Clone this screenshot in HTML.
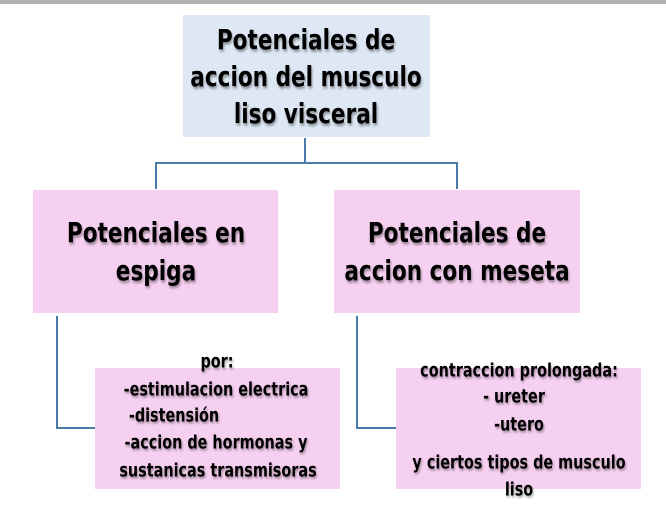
<!DOCTYPE html>
<html><head><meta charset="utf-8"><style>
body{margin:0;width:666px;height:511px;background:#fff;position:relative;overflow:hidden;font-family:"DejaVu Sans Condensed","DejaVu Sans","Liberation Sans",sans-serif;font-stretch:condensed;font-weight:bold;color:#000}
.b{position:absolute}
.t{position:absolute;white-space:nowrap;transform:translate(-50%,-50%) scale(1,1.15);text-shadow:1px 2px 2px rgba(0,0,0,.35)}
.l{position:absolute;background:#4a7aa8}
</style></head><body>
<div class="b" style="left:0;top:0;width:666px;height:4px;background:#b0b0b0"></div>
<div class="b" style="left:183px;top:15px;width:247px;height:122px;background:#dde8f4"></div>
<div class="b" style="left:33px;top:190px;width:245px;height:123px;background:#f6d0f0"></div>
<div class="b" style="left:334px;top:190px;width:246px;height:123px;background:#f6d0f0"></div>
<div class="b" style="left:95px;top:368px;width:245px;height:121px;background:#f6d0f0"></div>
<div class="b" style="left:396px;top:368px;width:245px;height:121px;background:#f6d0f0"></div>
<div class="l" style="left:304px;top:138px;width:2px;height:25px"></div>
<div class="l" style="left:155px;top:162px;width:303px;height:2px"></div>
<div class="l" style="left:155px;top:162px;width:2px;height:27px"></div>
<div class="l" style="left:456px;top:162px;width:2px;height:27px"></div>
<div class="l" style="left:56px;top:316px;width:2px;height:113px"></div>
<div class="l" style="left:56px;top:427px;width:39px;height:2px"></div>
<div class="l" style="left:356px;top:316px;width:2px;height:113px"></div>
<div class="l" style="left:356px;top:427px;width:40px;height:2px"></div>
<div style="font-size:24px">
<div class="t" style="left:306px;top:40px">Potenciales de</div>
<div class="t" style="left:306px;top:77px">accion del musculo</div>
<div class="t" style="left:306px;top:114px">liso visceral</div>
<div class="t" style="left:156px;top:233px">Potenciales en</div>
<div class="t" style="left:156px;top:271px">espiga</div>
<div class="t" style="left:457px;top:233px">Potenciales de</div>
<div class="t" style="left:457px;top:271px">accion con meseta</div>
</div>
<div style="font-size:16px">
<div class="t" style="left:217px;top:361px">por:</div>
<div class="t" style="left:216px;top:389px">-estimulacion electrica</div>
<div class="t" style="left:174px;top:415px">-distensión</div>
<div class="t" style="left:216px;top:442px">-accion de hormonas y</div>
<div class="t" style="left:218px;top:470px">sustanicas transmisoras</div>
<div class="t" style="left:519px;top:370px">contraccion prolongada:</div>
<div class="t" style="left:514px;top:396px">- ureter</div>
<div class="t" style="left:519px;top:424px">-utero</div>
<div class="t" style="left:519px;top:462px">y ciertos tipos de musculo</div>
<div class="t" style="left:519px;top:489px">liso</div>
</div>
</body></html>
